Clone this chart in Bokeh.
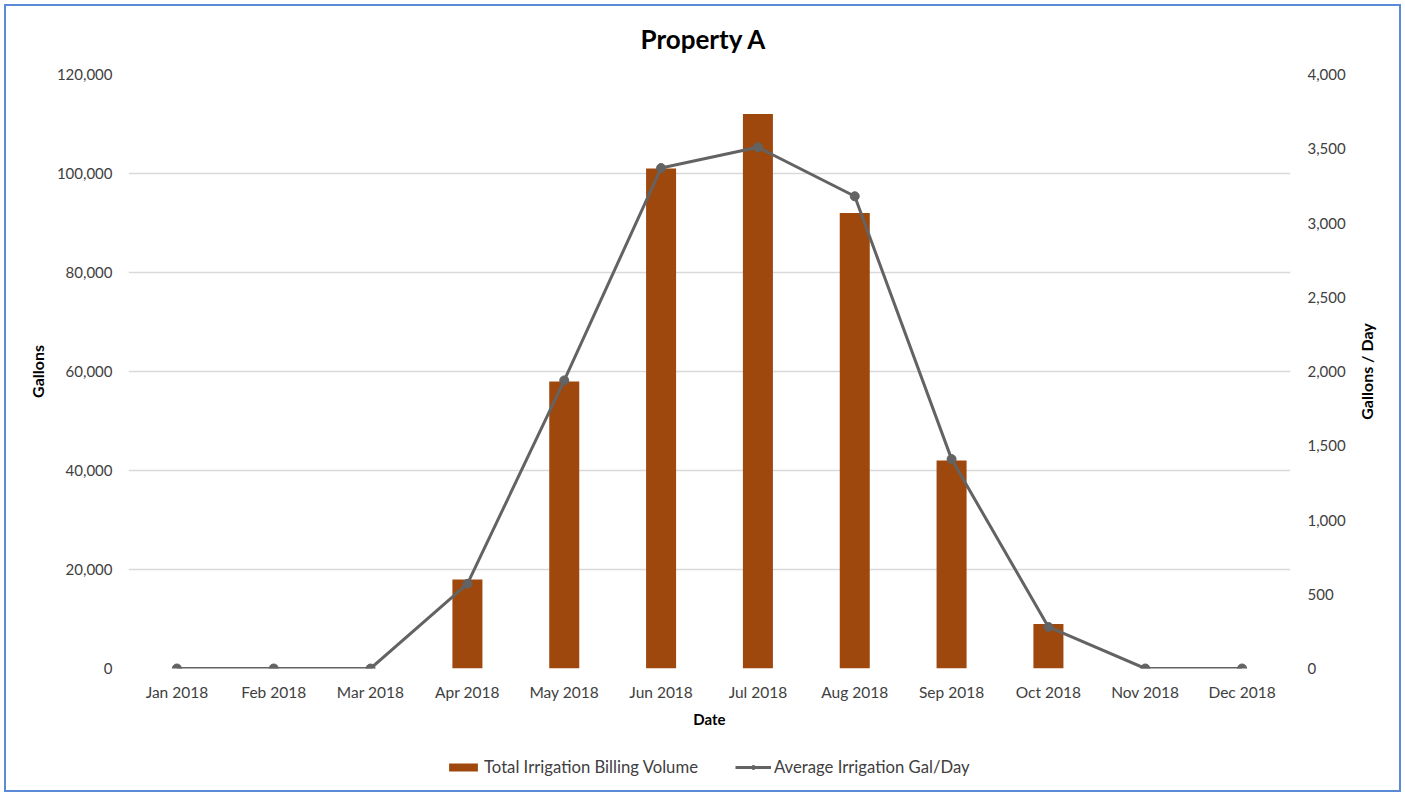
import math
from bokeh.plotting import figure
from bokeh.layouts import row, column
from bokeh.models import (Range1d, LinearAxis, NumeralTickFormatter, FactorRange, Legend,
                          LegendItem, SingleIntervalTicker)
from bokeh.core.properties import value
from bokeh.embed import file_html
from bokeh.resources import INLINE

months = ["Jan 2018", "Feb 2018", "Mar 2018", "Apr 2018", "May 2018", "Jun 2018",
          "Jul 2018", "Aug 2018", "Sep 2018", "Oct 2018", "Nov 2018", "Dec 2018"]
billing_volume = [0, 0, 0, 18000, 58000, 101000, 112000, 92000, 42000, 9000, 0, 0]
avg_gal_day = [0, 0, 0, 570, 1940, 3370, 3510, 3180, 1410, 280, 0, 0]
series_names = ["Total Irrigation Billing Volume", "Average Irrigation Gal/Day"]
right_axis_title = "Gallons / Day"

FONT = "Lato"
TXT = "#404040"
BAR = "#9E480E"
LINE = "#636363"


def strip(width, height):
    f = figure(width=width, height=height, x_range=Range1d(1, 2), y_range=Range1d(1, 2),
               x_axis_type=None, y_axis_type=None, min_border=0,
               output_backend="svg", toolbar_location=None)
    f.outline_line_color = None
    f.grid.grid_line_color = None
    f.background_fill_alpha = 0
    f.border_fill_alpha = 0
    return f


p = figure(x_range=FactorRange(*months), y_range=Range1d(0, 120000),
           frame_width=1162, frame_height=594,
           min_border_left=128, min_border_right=60, min_border_top=74, min_border_bottom=66,
           output_backend="svg", toolbar_location=None, title="Property A")
p.outline_line_color = None
p.background_fill_alpha = 0
p.border_fill_alpha = 0

p.title.align = "left"
p.title.offset = 512
p.title.text_font = FONT
p.title.text_font_size = "26px"
p.title.text_font_style = "bold"
p.title.text_color = "black"
p.title.text_line_height = 0.8
p.title.standoff = 40

p.extra_y_ranges = {"right": Range1d(0, 4000)}

bars = p.vbar(x=months, top=billing_volume, width=0.31, fill_color=BAR, line_color=None)
p.line(x=months, y=avg_gal_day, y_range_name="right", line_color=LINE, line_width=3)
p.scatter(x=months, y=avg_gal_day, y_range_name="right", size=9,
          fill_color=LINE, line_color=LINE)

p.xgrid.grid_line_color = None
p.ygrid.grid_line_color = "#D9D9D9"
p.ygrid.grid_line_width = 1.3
p.yaxis.ticker = SingleIntervalTicker(interval=20000)

ya = p.yaxis[0]
ya.formatter = NumeralTickFormatter(format="0,0")
ya.axis_line_color = None
ya.major_tick_line_color = None
ya.minor_tick_line_color = None
ya.major_label_standoff = 10
ya.major_label_text_font = FONT
ya.major_label_text_font_size = "15px"
ya.major_label_text_color = TXT
ya.axis_label = "Gallons"
ya.axis_label_text_font = FONT
ya.axis_label_text_font_size = "16px"
ya.axis_label_text_font_style = "bold"
ya.axis_label_text_color = "black"
ya.axis_label_standoff = 7

ra = LinearAxis(y_range_name="right", ticker=SingleIntervalTicker(interval=500),
                formatter=NumeralTickFormatter(format="0,0"))
ra.axis_line_color = None
ra.major_tick_line_color = None
ra.minor_tick_line_color = None
ra.major_label_standoff = 11
ra.major_label_text_font = FONT
ra.major_label_text_font_size = "15px"
ra.major_label_text_color = TXT
p.add_layout(ra, "right")

xa = p.xaxis[0]
xa.axis_line_color = None
xa.major_tick_line_color = None
xa.minor_tick_line_color = None
xa.major_label_standoff = 8
xa.major_label_text_font = FONT
xa.major_label_text_font_size = "15.5px"
xa.major_label_text_color = TXT
xa.axis_label = "Date"
xa.axis_label_text_font = FONT
xa.axis_label_text_font_size = "15px"
xa.axis_label_text_font_style = "bold"
xa.axis_label_text_color = "black"
xa.axis_label_standoff = 6

# right strip: secondary axis title reading bottom-to-top, centred on the plot frame
p2 = figure(width=55, height=734, x_range=Range1d(0, 1), y_range=Range1d(0, 1),
            x_axis_type=None, y_axis_type=None, min_border=0,
            output_backend="svg", toolbar_location=None)
p2.outline_line_color = None
p2.grid.grid_line_color = None
p2.background_fill_alpha = 0
p2.border_fill_alpha = 0
p2.text(x=[16 / 55], y=[0.5], text=[right_axis_title], angle=math.pi / 2,
        text_align="center", text_baseline="middle", text_font=value(FONT),
        text_font_size="16px", text_font_style="bold", text_color="black")

# bottom strip: legend (proxy renderers sit outside the strip's visible ranges)
p3 = strip(1405, 62)
lb = p3.vbar(x=[months.index(months[0])], top=[billing_volume[0]], width=0.31,
             fill_color=BAR, line_color=None)
ll = p3.line(x=[0, 0], y=[avg_gal_day[0], avg_gal_day[0]], line_color=LINE, line_width=3)
ls = p3.scatter(x=[0], y=[avg_gal_day[0]], size=9, fill_color=LINE, line_color=LINE)
legend = Legend(items=[LegendItem(label=series_names[0], renderers=[lb]),
                       LegendItem(label=series_names[1], renderers=[ll, ls])],
                location=(445, 19), orientation="horizontal",
                glyph_width=36, glyph_height=10, label_height=9, label_standoff=3, spacing=37,
                padding=0, margin=0, border_line_color=None, background_fill_alpha=0,
                label_text_font=FONT, label_text_font_size="16.7px", label_text_color=TXT,
                label_text_baseline="middle")
p3.add_layout(legend, "center")

layout = column(row(p, p2), p3,
                styles={"box-shadow": "inset 0 0 0 4px white, inset 0 0 0 6px #5B8BD6",
                        "background": "white"})

open("out.html", "w").write(file_html(layout, INLINE))
